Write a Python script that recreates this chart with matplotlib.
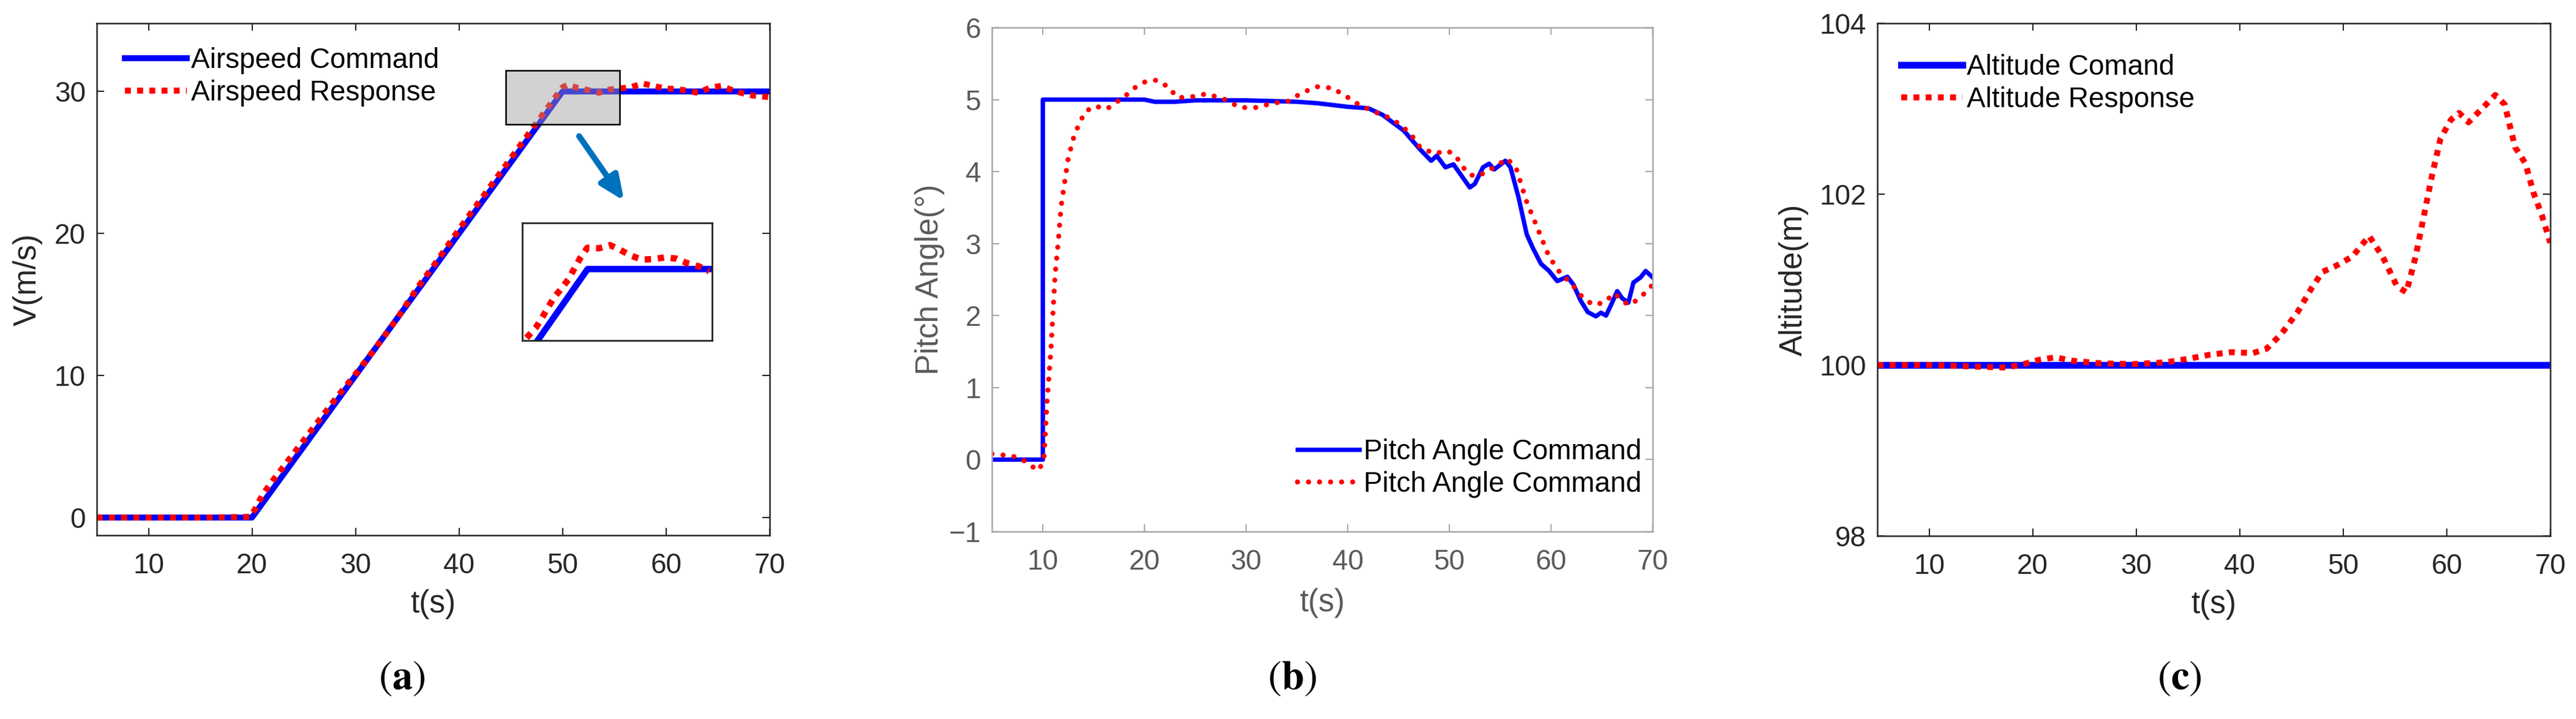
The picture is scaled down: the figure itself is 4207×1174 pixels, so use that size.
import numpy as np
import matplotlib
matplotlib.use("Agg")
import matplotlib.pyplot as plt
from matplotlib.patches import Rectangle, FancyArrowPatch

plt.rcParams['font.family'] = ['Liberation Sans', 'DejaVu Sans']
plt.rcParams['mathtext.fontset'] = 'stix'

# ---- data ----
x_ticks = [10, 20, 30, 40, 50, 60, 70]

# (a) airspeed
t_air_cmd = [5, 20, 50, 70]
v_air_cmd = [0, 0, 30, 30]
t_air_resp = [5, 10, 15, 19.8, 20.3, 21, 22, 24, 26, 28, 30, 32, 34, 36, 38, 40,
              42, 44, 46, 48, 49, 50, 50.5, 51.4, 52.5, 53.5, 54.5, 55.6, 56.6,
              57.7, 58.8, 60, 61.1, 62.1, 63.1, 64.2, 65.3, 66.4, 67.5, 68.5, 70]
v_air_resp = [0, 0, 0, 0.05, 0.6, 1.6, 2.6, 4.5, 6.4, 8.3, 10.1, 12.0, 14.0, 16.2, 18.2, 20.3,
              22.3, 24.3, 26.3, 28.3, 29.3, 30.3, 30.47, 30.26, 30.09, 29.91, 30.13, 30.22, 30.3,
              30.56, 30.39, 30.2, 30.17, 30.04, 29.9, 30.26, 30.39, 30.09, 29.85, 29.7, 29.6]

# inset of (a): zoomed view near the end of the ramp
t_inset_resp = [48.07, 48.36, 48.55, 48.73, 48.94, 49.16, 49.39, 49.58, 49.78, 49.99, 50.36,
                50.71, 51.04, 51.36, 51.71, 52.07, 52.46, 52.81, 53.15, 53.52, 53.84]
v_inset_resp = [28.48, 28.70, 28.91, 29.13, 29.37, 29.56, 29.77, 30.01, 30.26, 30.47, 30.46,
                30.53, 30.42, 30.30, 30.21, 30.22, 30.26, 30.23, 30.13, 30.06, 29.95]

# (b) pitch angle
t_pitch_cmd = [5, 10, 10, 20, 21, 23, 25, 30, 35, 37, 40, 42, 43.4, 45.5, 47.1, 48.2,
               48.75, 49.6, 50.4, 52.0, 52.5, 53.3, 53.9, 54.4, 55.5, 56.0, 56.8, 57.6,
               58.2, 59.0, 59.8, 60.6, 61.6, 62.2, 62.9, 63.6, 64.4, 64.9, 65.4, 66.0,
               66.5, 67.0, 67.6, 68.1, 68.8, 69.3, 70]
v_pitch_cmd = [0, 0, 5.0, 5.0, 4.97, 4.97, 4.99, 4.99, 4.97, 4.95, 4.9, 4.88, 4.79, 4.57, 4.31, 4.15,
               4.22, 4.06, 4.10, 3.78, 3.83, 4.06, 4.11, 4.03, 4.15, 4.06, 3.64, 3.13,
               2.94, 2.72, 2.62, 2.48, 2.54, 2.43, 2.21, 2.05, 1.99, 2.04, 2.0, 2.18,
               2.34, 2.24, 2.18, 2.46, 2.53, 2.62, 2.53]
t_pitch_resp = [5, 7, 8, 9, 9.6, 10.1, 10.4, 10.8, 11.2, 11.5, 11.8, 12.5, 13.1, 13.6, 14.15,
                15.1, 16.3, 17.2, 18.1, 19.1, 20.1, 21.2, 22.4, 23.2, 24.3, 26.1, 27.8, 29.4,
                31.0, 32.6, 34.2, 35.3, 36.9, 38.5, 39.9, 41.2, 42.8, 44.4, 46.1, 47.1, 48.5,
                49.8, 50.6, 51.7, 52.5, 53.6, 54.7, 55.7, 56.6, 57.6, 58.7, 59.8, 60.9, 61.9,
                63.0, 64.1, 65.2, 66.2, 67.0, 67.6, 68.4, 69.2, 70]
v_pitch_resp = [0.08, 0.05, 0.0, -0.1, -0.15, 0.0, 0.78, 1.54, 2.56, 3.0, 3.52, 4.19, 4.51, 4.67, 4.83,
                4.91, 4.87, 4.96, 5.05, 5.17, 5.25, 5.27, 5.17, 5.03, 5.03, 5.08, 5.01, 4.89,
                4.89, 4.95, 4.98, 5.08, 5.18, 5.16, 5.04, 4.92, 4.82, 4.73, 4.54, 4.34, 4.25,
                4.29, 4.22, 3.99, 3.93, 3.99, 4.09, 4.18, 4.03, 3.58, 3.20, 2.82, 2.59, 2.46,
                2.27, 2.15, 2.18, 2.31, 2.21, 2.15, 2.21, 2.31, 2.43]

# (c) altitude
t_alt_cmd = [5, 70]
v_alt_cmd = [100, 100]
t_alt_resp = [5, 10, 14.8, 17.5, 19.1, 20.6, 22.2, 23.8, 26.5, 29.6, 32.8, 34.9, 37.1, 39.2,
              41.3, 42.6, 44.0, 45.6, 46.9, 48.0, 49.3, 50.9, 52.5, 53.8, 55.2, 56.1, 57.0,
              57.8, 58.6, 59.4, 60.4, 61.2, 62.1, 63.4, 64.7, 65.6, 66.6, 67.6, 68.4, 69.2, 70.0]
v_alt_resp = [100.0, 100.0, 99.98, 99.97, 100.01, 100.06, 100.09, 100.05, 100.02, 100.01, 100.03,
              100.07, 100.12, 100.15, 100.14, 100.19, 100.36, 100.62, 100.89, 101.09, 101.16,
              101.27, 101.51, 101.27, 100.92, 100.85, 101.27, 101.75, 102.23, 102.65, 102.87,
              102.95, 102.84, 103.0, 103.16, 103.05, 102.55, 102.36, 102.01, 101.75, 101.43]

BLUE = '#0000ff'
RED = '#ff0000'
FS = 33       # tick labels and legends
FS_LAB = 37   # axis labels


def style_axes(ax, spine_color, text_color):
    for s in ax.spines.values():
        s.set_color(spine_color)
        s.set_linewidth(1.8)
    ax.tick_params(direction='in', top=True, right=True, length=8.5, width=1.5,
                   color=spine_color, labelcolor=text_color, labelsize=FS)
    ax.tick_params(axis='x', pad=20)
    ax.tick_params(axis='y', pad=13)
    ax.set_xlim(5, 70)
    ax.set_xticks(x_ticks)


def dotted(ax, t, v, lw, label=None):
    line, = ax.plot(t, v, color=RED, lw=lw, label=label)
    line.set_dashes((1.0, 1.05))
    line.set_dash_capstyle('butt')
    return line


def add_legend(ax, loc, anchor):
    ax.legend(loc=loc, bbox_to_anchor=anchor, frameon=False, fontsize=FS,
              handlelength=2.2, handletextpad=0.15, labelspacing=0.2, borderpad=0,
              borderaxespad=0)


fig = plt.figure(figsize=(42.07, 11.74), dpi=100)

# ---- (a) ----
ax1 = fig.add_axes([0.03756, 0.2555, 0.2612, 0.7121])
style_axes(ax1, '#262626', '#262626')
ax1.plot(t_air_cmd, v_air_cmd, color=BLUE, lw=7, label='Airspeed Command')
dotted(ax1, t_air_resp, v_air_resp, 7, 'Airspeed Response')
ax1.set_ylim(-1.25, 34.8)
ax1.set_yticks([0, 10, 20, 30])
ax1.set_xlabel('t(s)', fontsize=FS_LAB, color='#262626')
ax1.set_ylabel('V(m/s)', fontsize=FS_LAB, color='#262626')
ax1.xaxis.set_label_coords(0.5, -0.105)
ax1.yaxis.set_label_coords(-0.08, 0.5)
add_legend(ax1, 'upper left', (0.042, 0.953))

ax1.add_patch(Rectangle((44.5, 27.7), 11.0, 3.8, facecolor=(0.61, 0.61, 0.61, 0.45),
                        edgecolor='black', lw=1.8, zorder=5))
ax1.add_patch(FancyArrowPatch((51.6, 26.85), (55.95, 22.3),
                              arrowstyle='-|>,head_length=0.8,head_width=0.35',
                              mutation_scale=30, lw=7, color='#0072BD',
                              shrinkA=0, shrinkB=0, zorder=5))

axin = fig.add_axes([0.2028, 0.5264, 0.0737, 0.1635])
axin.plot(t_air_cmd, v_air_cmd, color=BLUE, lw=7.5)
dotted(axin, t_inset_resp, v_inset_resp, 7.5)
axin.set_xlim(47.94, 53.94)
axin.set_ylim(28.42, 31.02)
axin.set_xticks([])
axin.set_yticks([])
for s in axin.spines.values():
    s.set_color('#262626')
    s.set_linewidth(2)

# ---- (b) ----
ax2 = fig.add_axes([0.3851, 0.2606, 0.2565, 0.701])
style_axes(ax2, '#a8a8a8', '#5a5a5a')
ax2.plot(t_pitch_cmd, v_pitch_cmd, color=BLUE, lw=5.2, label='Pitch Angle Command')
r2, = ax2.plot(t_pitch_resp, v_pitch_resp, color=RED, lw=6, label='Pitch Angle Command')
r2.set_dashes((0.01, 2.15))
r2.set_dash_capstyle('round')
ax2.set_ylim(-1, 6)
ax2.set_yticks(range(-1, 7))
ax2.set_xlabel('t(s)', fontsize=FS_LAB, color='#5a5a5a')
ax2.set_ylabel('Pitch Angle(°)', fontsize=FS_LAB, color='#5a5a5a')
ax2.xaxis.set_label_coords(0.5, -0.112)
ax2.yaxis.set_label_coords(-0.071, 0.5)
add_legend(ax2, 'lower right', (0.983, 0.067))

# ---- (c) ----
ax3 = fig.add_axes([0.7288, 0.2547, 0.2612, 0.713])
style_axes(ax3, '#262626', '#262626')
ax3.plot(t_alt_cmd, v_alt_cmd, color=BLUE, lw=8, label='Altitude Comand')
dotted(ax3, t_alt_resp, v_alt_resp, 7, 'Altitude Response')
ax3.set_ylim(98, 104)
ax3.set_yticks([98, 100, 102, 104])
ax3.set_xlabel('t(s)', fontsize=FS_LAB, color='#262626')
ax3.set_ylabel('Altitude(m)', fontsize=FS_LAB, color='#262626')
ax3.xaxis.set_label_coords(0.5, -0.105)
ax3.yaxis.set_label_coords(-0.102, 0.5)
add_legend(ax3, 'upper left', (0.035, 0.94))

# sub-figure captions
for xc, letter in [(0.156, 'a'), (0.5015, 'b'), (0.846, 'c')]:
    fig.text(xc, 0.056, r'$(\mathbf{%s})$' % letter, fontsize=48, ha='center', va='center')

fig.savefig('out.png', dpi=100)
plt.close(fig)
